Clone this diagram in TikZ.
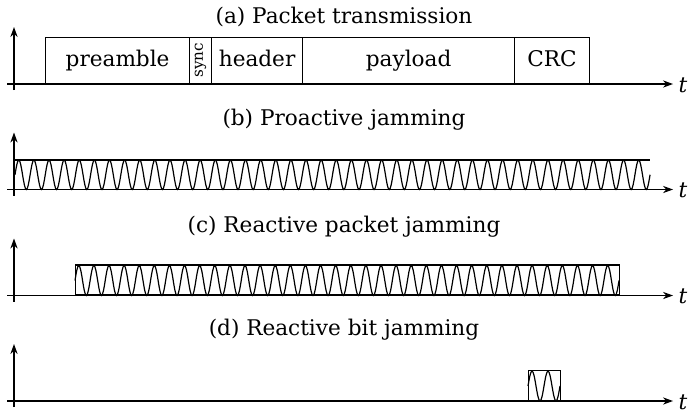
\documentclass[tikz,border=0pt]{standalone}
\usepackage{fontspec}
\setmainfont{DejaVu Serif}
\usetikzlibrary{arrows.meta}
\begin{document}
\begin{tikzpicture}[x=0.5pt,y=-0.5pt,line width=0.6pt,
  axisarrow/.style={-{Stealth[length=5pt,width=3.6pt]}},
  title/.style={font=\fontsize{10.8}{13}\selectfont,inner sep=0pt},
  tlabel/.style={font=\fontsize{10.8}{13}\selectfont\itshape,inner sep=0pt},
  field/.style={draw,anchor=south west,inner sep=0pt,minimum height=23pt,
    font=\fontsize{10.8}{13}\selectfont,text height=8pt,text depth=2.3pt},
  burst/.style={draw,anchor=south west,inner sep=0pt,minimum height=15pt}]
\useasboundingbox (0,0) rectangle (688,412);

% time axes of the four panels
\foreach \p/\y in {a/84,b/189.5,c/295.5,d/401}{
  \coordinate (\p-vb) at (14,\y+6);
  \coordinate (\p-vt) at (14,\y-57);
  \coordinate (\p-hl) at (7,\y);
  \coordinate (\p-hr) at (673,\y);
  \draw[axisarrow] (\p-vb) -- (\p-vt);
  \draw[axisarrow] (\p-hl) -- (\p-hr);
  \node[tlabel] (\p-t) at (683,\y+1) {t};
}

% panel titles
\node[title] (a-title) at (344,17) {(a) Packet transmission};
\node[title] (b-title) at (344,120) {(b) Proactive jamming};
\node[title] (c-title) at (344,227) {(c) Reactive packet jamming};
\node[title] (d-title) at (344,330) {(d) Reactive bit jamming};

% (a) packet fields
\node[field,minimum width=72pt] (pre) at (45,84) {preamble};
\node[field,minimum width=11pt] (sync) at (189,84) {};
\node[rotate=90,inner sep=0pt,font=\fontsize{7.6}{8}\selectfont] (synclabel) at (sync.center) {sync};
\node[field,minimum width=45.5pt] (hdr) at (211,84) {header};
\node[field,minimum width=106pt] (pay) at (302,84) {payload};
\node[field,minimum width=37.5pt] (crc) at (514,84) {CRC};

% (b) continuous jamming signal
\coordinate (b-ls) at (14,160);
\coordinate (b-le) at (650,160);
\draw (b-ls) -- (b-le);
\draw (15,174.75) \foreach \i in {1,...,42}{
  sin ++(3.78,-14.75) cos ++(3.78,14.75) sin ++(3.78,14.75) cos ++(3.78,-14.75)};

% (c) jamming burst over the packet
\node[burst,minimum width=272pt] (c-burst) at (75,295.5) {};
\draw (75,280.5) \foreach \i in {1,...,36}{
  sin ++(3.7778,-15) cos ++(3.7778,15) sin ++(3.7778,15) cos ++(3.7778,-15)};

% (d) short jamming burst
\node[burst,minimum width=16pt] (d-burst) at (528,401) {};
\draw (528,386) \foreach \i in {1,2}{
  sin ++(4,-15) cos ++(4,15) sin ++(4,15) cos ++(4,-15)};
\end{tikzpicture}
\end{document}
